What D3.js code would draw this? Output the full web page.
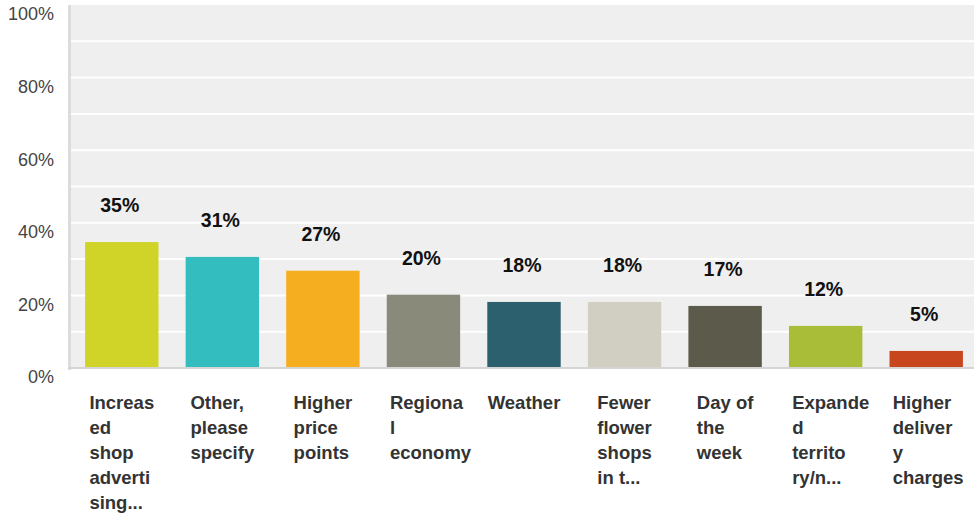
<!DOCTYPE html>
<meta charset="utf-8">
<style>
  html, body { margin: 0; padding: 0; background: #fff; }
  svg { display: block; font-family: "Liberation Sans", Arial, sans-serif; }
</style>
<svg id="chart" width="974" height="513"></svg>
<script src="https://cdn.jsdelivr.net/npm/d3@7"></script>
<script>
  // categories (already wrapped the way the survey tool cuts them)
  const categories = [
    "Increas\ned\nshop\nadverti\nsing...",
    "Other,\nplease\nspecify",
    "Higher\nprice\npoints",
    "Regiona\nl\neconomy",
    "Weather",
    "Fewer\nflower\nshops\nin t...",
    "Day of\nthe\nweek",
    "Expande\nd\nterrito\nry/n...",
    "Higher\ndeliver\ny\ncharges"
  ]
  const values = [34.7, 30.6, 26.8, 20.2, 18.2, 18.2, 17.1, 11.6, 4.7]
  const colors = ["#d0d429", "#33bdbf", "#f6ae21", "#8a8a7a", "#2d606e",
                  "#d0cfc1", "#5b5a4b", "#a9bd38", "#c8461d"]
  const yTicks = [0, 20, 40, 60, 80, 100]

  const svg = d3.select("#chart")
  const m = { left: 71, right: 975, top: 5, bottom: 368 }

  let x = d3.scaleBand()
    .domain(d3.range(categories.length))
    .range([m.left - 1, m.right + 3])
    .paddingInner(0.27)
    .paddingOuter(0.15)

  let y = d3.scaleLinear().domain([0, 100]).range([m.bottom, m.top])

  // plot background
  svg.append("rect")
    .attr("x", m.left).attr("y", m.top)
    .attr("width", m.right - m.left).attr("height", m.bottom - m.top)
    .attr("fill", "#efefef")

  // white gridlines every 10%
  svg.append("g").selectAll("line")
    .data(d3.range(10, 100, 10))
    .join("line")
    .attr("x1", m.left).attr("x2", m.right)
    .attr("y1", d => y(d)).attr("y2", d => y(d))
    .attr("stroke", "#fff").attr("stroke-width", 2)

  // left + bottom axis lines
  svg.append("rect").attr("x", 68).attr("y", m.top)
    .attr("width", 3).attr("height", m.bottom - m.top + 2).attr("fill", "#dcdcdc")
  svg.append("rect").attr("x", 68).attr("y", m.bottom - 1)
    .attr("width", m.right - 68).attr("height", 2).attr("fill", "#d4d4d4")

  // y labels
  svg.append("g").selectAll("text")
    .data(yTicks)
    .join("text")
    .attr("x", 54).attr("y", d => y(d) + 9)
    .attr("dy", "0.35em")
    .attr("text-anchor", "end")
    .attr("font-size", 18)
    .attr("fill", "#444")
    .text(d => d + "%")

  // bars
  svg.append("g").selectAll("rect")
    .data(values)
    .join("rect")
    .attr("x", (d, i) => x(i))
    .attr("y", d => y(d))
    .attr("width", x.bandwidth())
    .attr("height", d => m.bottom - 1 - y(d))
    .attr("fill", (d, i) => colors[i])

  // value labels
  svg.append("g").selectAll("text")
    .data(values)
    .join("text")
    .attr("x", (d, i) => x(i) + x.bandwidth() / 2 - 2)
    .attr("y", d => y(d) - 30)
    .attr("text-anchor", "middle")
    .attr("font-size", 19.5)
    .attr("font-weight", "bold")
    .attr("fill", "#111")
    .text(d => Math.round(d) + "%")

  // category labels: wrap box centred on the bar, lines left aligned;
  // long words overflow to the right of the box
  let cat = svg.append("g").selectAll("text")
    .data(categories)
    .join("text")
    .attr("y", 409)
    .attr("font-size", 18.5)
    .attr("font-weight", "bold")
    .attr("fill", "#333")

  cat.selectAll("tspan")
    .data(d => d.split("\n"))
    .join("tspan")
    .attr("dy", (d, i) => i ? 25 : 0)
    .text(d => d)

  cat.each(function(d, i) {
    let spans = d3.select(this).selectAll("tspan")
    let w = d3.max(spans.nodes(), n => n.getComputedTextLength())
    if (spans.size() > 1) w = Math.min(w, 67)
    spans.attr("x", x(i) + x.bandwidth() / 2 - w / 2)
  })
</script>
